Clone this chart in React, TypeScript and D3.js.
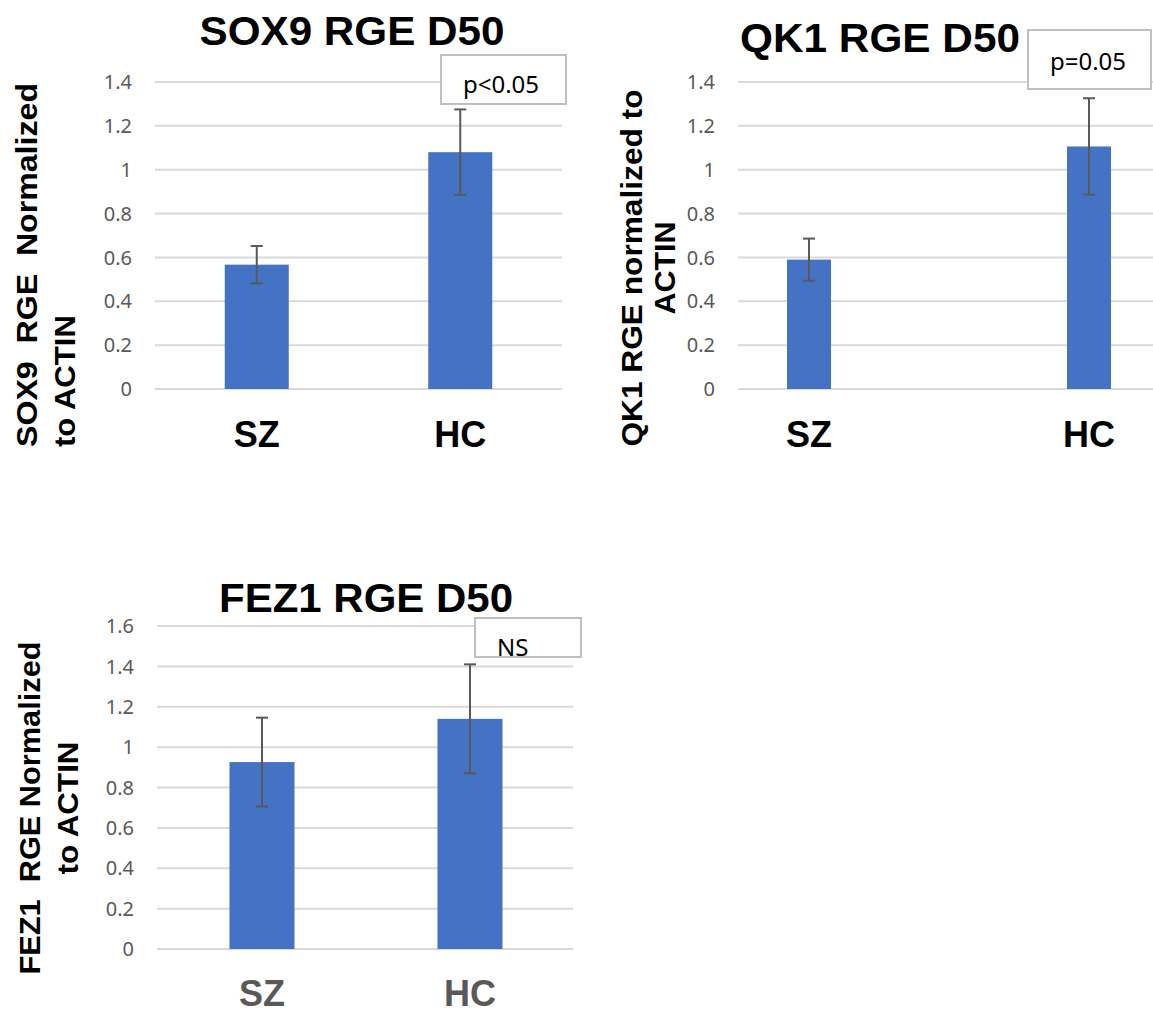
import React from "react";
import * as d3 from "d3";

// data
const categories = ["SZ", "HC"];

const sox9Means = [0.567, 1.08];
const sox9Errors = [0.085, 0.195];
const qk1Means = [0.59, 1.106];
const qk1Errors = [0.096, 0.22];
const fez1Means = [0.926, 1.14];
const fez1Errors = [0.22, 0.27];

const sox9Ticks = [0, 0.2, 0.4, 0.6, 0.8, 1, 1.2, 1.4];
const qk1Ticks = [0, 0.2, 0.4, 0.6, 0.8, 1, 1.2, 1.4];
const fez1Ticks = [0, 0.2, 0.4, 0.6, 0.8, 1, 1.2, 1.4, 1.6];

const BAR = "#4472c4";
const GRID = "#d9d9d9";
const DARK = "#595959";
const BOLD = "'Liberation Sans', Arial, sans-serif";
const BODY = "'Noto Sans', 'Open Sans', sans-serif";

type YLine = { text: string; x: number; y: number; len: number; anchor: string };

type PanelProps = {
  means: number[];
  errors: number[];
  ticks: number[];
  yTop: number;
  yBottom: number;
  gridX0: number;
  gridX1: number;
  bandX0: number;
  bandX1: number;
  barRatio: number;
  title: string;
  titleX: number;
  titleY: number;
  titleLen: number;
  yLines: YLine[];
  catY: number;
  catColor: string;
  box: { x: number; y: number; w: number; h: number; text: string; tx: number; ty: number; anchor: string };
};

const Panel = (p: PanelProps) => {
  const yMax = p.ticks[p.ticks.length - 1];
  const y = d3.scaleLinear().domain([0, yMax]).range([p.yBottom, p.yTop]);
  const x = d3.scaleBand().domain(categories).range([p.bandX0, p.bandX1]).padding(0);
  const bw = x.bandwidth() * p.barRatio;

  return (
    <g>
      {/* gridlines + tick labels */}
      {p.ticks.map((t) => (
        <g key={t}>
          <line x1={p.gridX0} x2={p.gridX1} y1={y(t)} y2={y(t)} stroke={GRID} strokeWidth={2} />
          <text x={p.gridX0 - 23} y={y(t)} dy="0.36em" textAnchor="end" fontFamily={BODY} fontSize={20} fill={DARK}>
            {String(t)}
          </text>
        </g>
      ))}

      {/* bars with error bars */}
      {categories.map((c, i) => {
        const cx = (x(c) as number) + x.bandwidth() / 2;
        const hi = y(p.means[i] + p.errors[i]);
        const lo = y(p.means[i] - p.errors[i]);
        return (
          <g key={c}>
            <rect x={cx - bw / 2} y={y(p.means[i])} width={bw} height={y(0) - y(p.means[i])} fill={BAR} />
            <line x1={cx} x2={cx} y1={hi} y2={lo} stroke={DARK} strokeWidth={2} />
            <line x1={cx - 6} x2={cx + 6} y1={hi} y2={hi} stroke={DARK} strokeWidth={2} />
            <line x1={cx - 6} x2={cx + 6} y1={lo} y2={lo} stroke={DARK} strokeWidth={2} />
            <text x={cx} y={p.catY} textAnchor="middle" fontFamily={BOLD} fontWeight="bold" fontSize={36} fill={p.catColor}>
              {c}
            </text>
          </g>
        );
      })}

      {/* stats box */}
      <rect x={p.box.x} y={p.box.y} width={p.box.w} height={p.box.h} fill="#fff" stroke="#bfbfbf" strokeWidth={2} />
      <text x={p.box.tx} y={p.box.ty} textAnchor={p.box.anchor} fontFamily={BODY} fontSize={24} fill="#000">
        {p.box.text}
      </text>

      {/* title */}
      <text
        x={p.titleX}
        y={p.titleY}
        textAnchor="middle"
        fontFamily={BOLD}
        fontWeight="bold"
        fontSize={41}
        textLength={p.titleLen}
        lengthAdjust="spacingAndGlyphs"
      >
        {p.title}
      </text>

      {/* y axis title, two lines */}
      {p.yLines.map((l) => (
        <text
          key={l.text}
          transform={`translate(${l.x},${l.y}) rotate(-90)`}
          textAnchor={l.anchor}
          fontFamily={BOLD}
          fontWeight="bold"
          fontSize={29}
          textLength={l.len}
          lengthAdjust="spacingAndGlyphs"
          style={{ whiteSpace: "pre" }}
        >
          {l.text}
        </text>
      ))}
    </g>
  );
};

export default function App() {
  return (
    <svg
      width={1153}
      height={1011}
      style={{ position: "absolute", left: 0, top: 0, background: "#fff" }}
    >
      <Panel
        means={sox9Means}
        errors={sox9Errors}
        ticks={sox9Ticks}
        yTop={82}
        yBottom={389}
        gridX0={155}
        gridX1={562}
        bandX0={155}
        bandX1={562}
        barRatio={0.3145}
        title="SOX9 RGE D50"
        titleX={352}
        titleY={45}
        titleLen={305}
        yLines={[
          { text: "SOX9  RGE  Normalized", x: 37, y: 447, len: 364, anchor: "start" },
          { text: "to ACTIN", x: 75, y: 447, len: 132, anchor: "start" },
        ]}
        catY={447}
        catColor="#000"
        box={{ x: 441, y: 55, w: 125, h: 49, text: "p<0.05", tx: 501, ty: 93, anchor: "middle" }}
      />
      <Panel
        means={qk1Means}
        errors={qk1Errors}
        ticks={qk1Ticks}
        yTop={82}
        yBottom={389}
        gridX0={738}
        gridX1={1153}
        bandX0={669}
        bandX1={1229}
        barRatio={0.157}
        title="QK1 RGE D50"
        titleX={880}
        titleY={52}
        titleLen={280}
        yLines={[
          { text: "QK1 RGE normalized to", x: 642, y: 268, len: 357, anchor: "middle" },
          { text: "ACTIN", x: 675, y: 268, len: 93, anchor: "middle" },
        ]}
        catY={447}
        catColor="#000"
        box={{ x: 1028, y: 30, w: 123, h: 59, text: "p=0.05", tx: 1088, ty: 70, anchor: "middle" }}
      />
      <Panel
        means={fez1Means}
        errors={fez1Errors}
        ticks={fez1Ticks}
        yTop={626}
        yBottom={949}
        gridX0={157}
        gridX1={573}
        bandX0={158}
        bandX1={574}
        barRatio={0.3125}
        title="FEZ1 RGE D50"
        titleX={366}
        titleY={612}
        titleLen={294}
        yLines={[
          { text: "FEZ1  RGE Normalized", x: 40, y: 808, len: 333, anchor: "middle" },
          { text: "to ACTIN", x: 78, y: 808, len: 133, anchor: "middle" },
        ]}
        catY={1006}
        catColor={DARK}
        box={{ x: 475, y: 618, w: 106, h: 39, text: "NS", tx: 497, ty: 656, anchor: "start" }}
      />
    </svg>
  );
}
